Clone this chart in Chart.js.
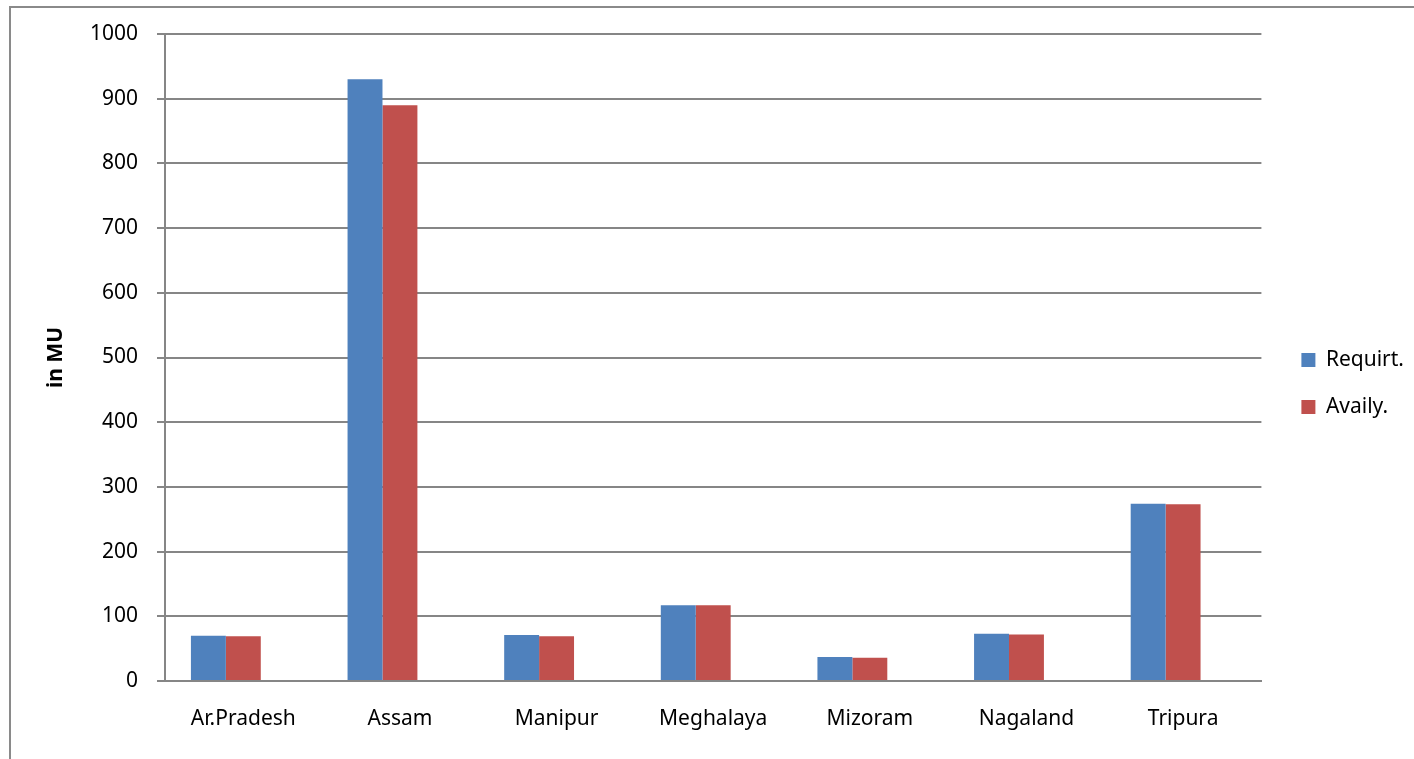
<!DOCTYPE html>
<html>
<head>
<meta charset="utf-8">
<script src="https://cdn.jsdelivr.net/npm/chart.js@4/dist/chart.umd.min.js"></script>
<style>
  html, body { margin: 0; padding: 0; background: #fff; }
  #wrap { position: relative; width: 1414px; height: 759px; }
  canvas { display: block; }
</style>
</head>
<body>
<div id="wrap"><canvas id="c" width="1414" height="759"></canvas></div>
<script>
const categories = ['Ar.Pradesh', 'Assam', 'Manipur', 'Meghalaya', 'Mizoram', 'Nagaland', 'Tripura'];
const requirt = [70, 930, 71, 117, 37, 73, 274];
const availy = [69, 890, 69, 117, 36, 72, 273];
const seriesNames = ['Requirt.', 'Availy.'];
const yTicks = [0, 100, 200, 300, 400, 500, 600, 700, 800, 900, 1000];
const yTitle = 'in MU';

const FONT = "'Noto Sans', 'DejaVu Sans', sans-serif";
const gridColor = '#868686';

const borderPlugin = {
  id: 'outerBorder',
  beforeDraw(chart) {
    const ctx = chart.ctx;
    ctx.save();
    ctx.fillStyle = '#ffffff';
    ctx.fillRect(0, 0, chart.width, chart.height);
    ctx.strokeStyle = '#8a8a8a';
    ctx.lineWidth = 2;
    ctx.beginPath();
    ctx.moveTo(10, chart.height);
    ctx.lineTo(10, 7);
    ctx.lineTo(chart.width, 7);
    ctx.stroke();
    ctx.restore();
  }
};

new Chart(document.getElementById('c'), {
  type: 'bar',
  data: {
    labels: categories,
    datasets: [
      { label: seriesNames[0], data: requirt, backgroundColor: '#4F81BD', borderWidth: 0 },
      { label: seriesNames[1], data: availy, backgroundColor: '#C0504D', borderWidth: 0 },
      { label: '', data: [], backgroundColor: 'rgba(0,0,0,0)', borderWidth: 0 }
    ]
  },
  options: {
    responsive: false,
    animation: false,
    devicePixelRatio: 1,
    layout: { padding: { top: 34, left: 0, right: 0, bottom: 26 } },
    datasets: { bar: { categoryPercentage: 0.669, barPercentage: 1 } },
    plugins: {
      legend: {
        position: 'right',
        labels: {
          filter: (item) => item.text !== '',
          boxWidth: 14,
          boxHeight: 14,
          padding: 26,
          color: '#000',
          font: { family: FONT, size: 21 }
        }
      },
      tooltip: { enabled: false },
      title: { display: false }
    },
    scales: {
      x: {
        grid: { display: false, drawTicks: false },
        border: { display: true, color: gridColor, width: 2 },
        ticks: { color: '#000', font: { family: FONT, size: 21 }, padding: 25, maxRotation: 0 },
        afterFit(scale) { scale.height = 52; }
      },
      y: {
        min: 0,
        max: 1000,
        afterBuildTicks(scale) { scale.ticks = yTicks.map(v => ({ value: v })); },
        grid: { color: gridColor, lineWidth: 2, tickLength: 8, drawTicks: true },
        border: { display: true, color: gridColor, width: 2 },
        ticks: { color: '#000', font: { family: FONT, size: 21 }, padding: 19, callback: (v) => String(v) },
        title: {
          display: true,
          text: yTitle,
          color: '#000',
          font: { family: FONT, size: 21, weight: 'bold' },
          padding: { top: 43, bottom: 0 }
        },
        afterFit(scale) { scale.width = 165; }
      },
      gap: {
        type: 'linear',
        position: 'right',
        display: true,
        grid: { display: false, drawTicks: false },
        border: { display: false },
        ticks: { display: false },
        afterFit(scale) { scale.width = 14; }
      }
    }
  },
  plugins: [borderPlugin]
});
</script>
</body>
</html>
